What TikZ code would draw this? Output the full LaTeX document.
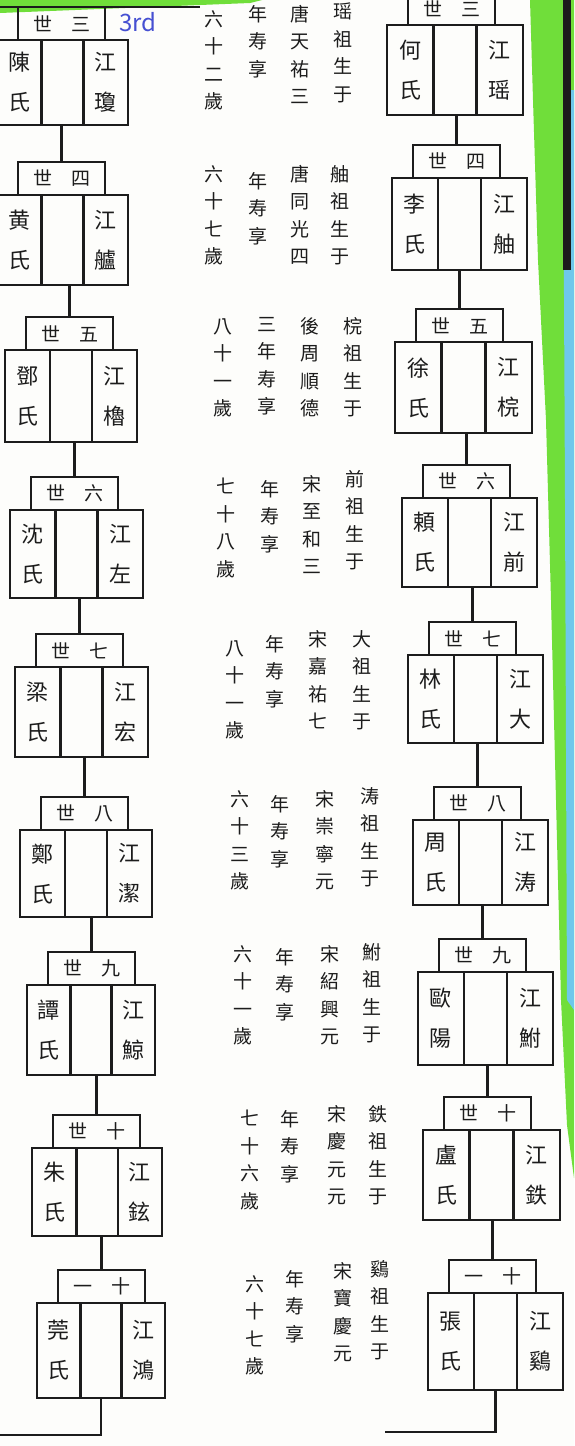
\documentclass[tikz,border=0pt]{standalone}
\usepackage{fontspec}
\setmainfont{Noto Sans CJK TC}
\definecolor{paper}{RGB}{253,253,251}
\definecolor{marker}{RGB}{112,222,58}
\definecolor{skyband}{RGB}{110,200,235}
\definecolor{ink}{RGB}{28,28,28}
\definecolor{penblue}{RGB}{70,80,210}

% one generation: id, x, y (top left of the couple box), width, height, title, wife, husband
\newcommand{\famgen}[8]{%
  \node (wife#1)[cellbox,anchor=north west,minimum width={0.34*#4pt},minimum height={#5pt}] at (#2,#3) {#7};
  \node (mid#1)[cellbox,anchor=north west,minimum width={0.32*#4pt},minimum height={#5pt}] at (wife#1.north east) {};
  \node (husb#1)[cellbox,anchor=north west,minimum width={0.34*#4pt},minimum height={#5pt}] at (mid#1.north east) {#8};
  \node (title#1)[titlebox,anchor=south west] at ([xshift=21pt]wife#1.north west) {#6};
}
% one vertical line of text
\newcommand{\lifecol}[4]{\node (#1)[lifetext,anchor=north] at (#2,#3) {#4};}

\begin{document}
\begin{tikzpicture}[x=1pt,y=-1pt,
    cellbox/.style={shape=rectangle,draw=ink,line width=2.6pt,outer sep=0pt,inner sep=1pt,
                    align=center,text=ink,font=\fontsize{22}{40}\selectfont},
    titlebox/.style={shape=rectangle,draw=ink,line width=2.6pt,outer sep=0pt,
                     minimum width=87pt,minimum height=33pt,text=ink,
                     font=\fontsize{19}{19}\selectfont},
    lifetext/.style={align=center,inner sep=0pt,text=ink,font=\fontsize{19}{27.5}\selectfont},
    link/.style={draw=ink,line width=2.6pt}]
  \useasboundingbox (0,0) rectangle (574,1446);
  \fill[paper] (0,0) rectangle (574,1446);
  % marker strokes on the scan
  \fill[marker] (0,0) -- (262,0) -- (250,3) -- (0,13) -- cycle;
  \draw[ink,line width=1.6pt] (0,7) -- (200,7);
  \fill[marker] (530,0) -- (574,0) -- (574,1178) -- (567,1125) -- (561,1000) -- (556,800)
    -- (551,600) -- (546,420) -- (538,260) -- (533,100) -- cycle;
  \fill[skyband] (563,90) -- (574,90) -- (574,1010) -- (567,1000) -- (565,500) -- cycle;
  \fill[ink] (563,0) rectangle (571,270);

  \node (note)[text=penblue,font=\fontsize{24}{24}\selectfont] at (138,22) {3rd};

  % left line
  \famgen{L3}{-3}{40}{131}{85}{世\hspace{1em}三}{陳\\氏}{江\\瓊}
  \famgen{L4}{-3}{195}{131}{90}{世\hspace{1em}四}{黄\\氏}{江\\艫}
  \famgen{L5}{5}{350}{132}{92}{世\hspace{1em}五}{鄧\\氏}{江\\櫓}
  \famgen{L6}{10}{510}{133}{88}{世\hspace{1em}六}{沈\\氏}{江\\左}
  \famgen{L7}{15}{667}{133}{90}{世\hspace{1em}七}{梁\\氏}{江\\宏}
  \famgen{L8}{20}{830}{132}{87}{世\hspace{1em}八}{鄭\\氏}{江\\潔}
  \famgen{L9}{27}{985}{128}{90}{世\hspace{1em}九}{譚\\氏}{江\\鯨}
  \famgen{L10}{32}{1148}{130}{88}{世\hspace{1em}十}{朱\\氏}{江\\鉉}
  \famgen{L11}{37}{1303}{128}{95}{一\hspace{1em}十}{莞\\氏}{江\\鴻}

  % right line
  \famgen{R3}{387}{25}{136}{90}{世\hspace{1em}三}{何\\氏}{江\\瑶}
  \famgen{R4}{392}{178}{135}{92}{世\hspace{1em}四}{李\\氏}{江\\舳}
  \famgen{R5}{395}{342}{137}{91}{世\hspace{1em}五}{徐\\氏}{江\\梡}
  \famgen{R6}{402}{498}{135}{89}{世\hspace{1em}六}{頼\\氏}{江\\前}
  \famgen{R7}{408}{655}{135}{88}{世\hspace{1em}七}{林\\氏}{江\\大}
  \famgen{R8}{413}{820}{135}{85}{世\hspace{1em}八}{周\\氏}{江\\涛}
  \famgen{R9}{418}{972}{135}{93}{世\hspace{1em}九}{歐\\陽}{江\\鮒}
  \famgen{R10}{423}{1130}{137}{90}{世\hspace{1em}十}{盧\\氏}{江\\鉄}
  \famgen{R11}{428}{1293}{135}{97}{一\hspace{1em}十}{張\\氏}{江\\鷄}

  % descent lines
  \foreach \a/\b in {3/4,4/5,5/6,6/7,7/8,8/9,9/10,10/11}{
    \draw[link] (titleL\b.north |- midL\a.south) -- (titleL\b.north);
    \draw[link] (titleR\b.north |- midR\a.south) -- (titleR\b.north);
  }
  \coordinate (endL) at (0,1435);
  \coordinate (endR) at (385,1432);
  \draw[link] (midL11.south) |- (endL);
  \draw[link] (midR11.south) |- (endR);

  % notes on each ancestor, read from right to left
  \lifecol{bornR3}{343}{3}{瑶\\祖\\生\\于}
  \lifecol{eraR3}{300}{5}{唐\\天\\祐\\三}
  \lifecol{yearsR3}{258}{5}{年\\寿\\享}
  \lifecol{ageR3}{214}{10}{六\\十\\二\\歲}

  \lifecol{bornR4}{340}{165}{舳\\祖\\生\\于}
  \lifecol{eraR4}{300}{165}{唐\\同\\光\\四}
  \lifecol{yearsR4}{258}{172}{年\\寿\\享}
  \lifecol{ageR4}{214}{165}{六\\十\\七\\歲}

  \lifecol{bornR5}{353}{317}{梡\\祖\\生\\于}
  \lifecol{eraR5}{310}{317}{後\\周\\順\\德}
  \lifecol{yearsR5}{267}{317}{三\\年\\寿\\享}
  \lifecol{ageR5}{223}{318}{八\\十\\一\\歲}

  \lifecol{bornR6}{355}{470}{前\\祖\\生\\于}
  \lifecol{eraR6}{312}{475}{宋\\至\\和\\三}
  \lifecol{yearsR6}{270}{480}{年\\寿\\享}
  \lifecol{ageR6}{226}{478}{七\\十\\八\\歲}

  \lifecol{bornR7}{362}{630}{大\\祖\\生\\于}
  \lifecol{eraR7}{318}{630}{宋\\嘉\\祐\\七}
  \lifecol{yearsR7}{275}{635}{年\\寿\\享}
  \lifecol{ageR7}{235}{640}{八\\十\\一\\歲}

  \lifecol{bornR8}{370}{787}{涛\\祖\\生\\于}
  \lifecol{eraR8}{325}{790}{宋\\崇\\寧\\元}
  \lifecol{yearsR8}{280}{795}{年\\寿\\享}
  \lifecol{ageR8}{240}{790}{六\\十\\三\\歲}

  \lifecol{bornR9}{372}{943}{鮒\\祖\\生\\于}
  \lifecol{eraR9}{330}{945}{宋\\紹\\興\\元}
  \lifecol{yearsR9}{285}{948}{年\\寿\\享}
  \lifecol{ageR9}{243}{945}{六\\十\\一\\歲}

  \lifecol{bornR10}{378}{1105}{鉄\\祖\\生\\于}
  \lifecol{eraR10}{337}{1105}{宋\\慶\\元\\元}
  \lifecol{yearsR10}{290}{1110}{年\\寿\\享}
  \lifecol{ageR10}{250}{1110}{七\\十\\六\\歲}

  \lifecol{bornR11}{380}{1260}{鷄\\祖\\生\\于}
  \lifecol{eraR11}{343}{1262}{宋\\寶\\慶\\元}
  \lifecol{yearsR11}{295}{1270}{年\\寿\\享}
  \lifecol{ageR11}{255}{1275}{六\\十\\七\\歲}
\end{tikzpicture}
\end{document}
